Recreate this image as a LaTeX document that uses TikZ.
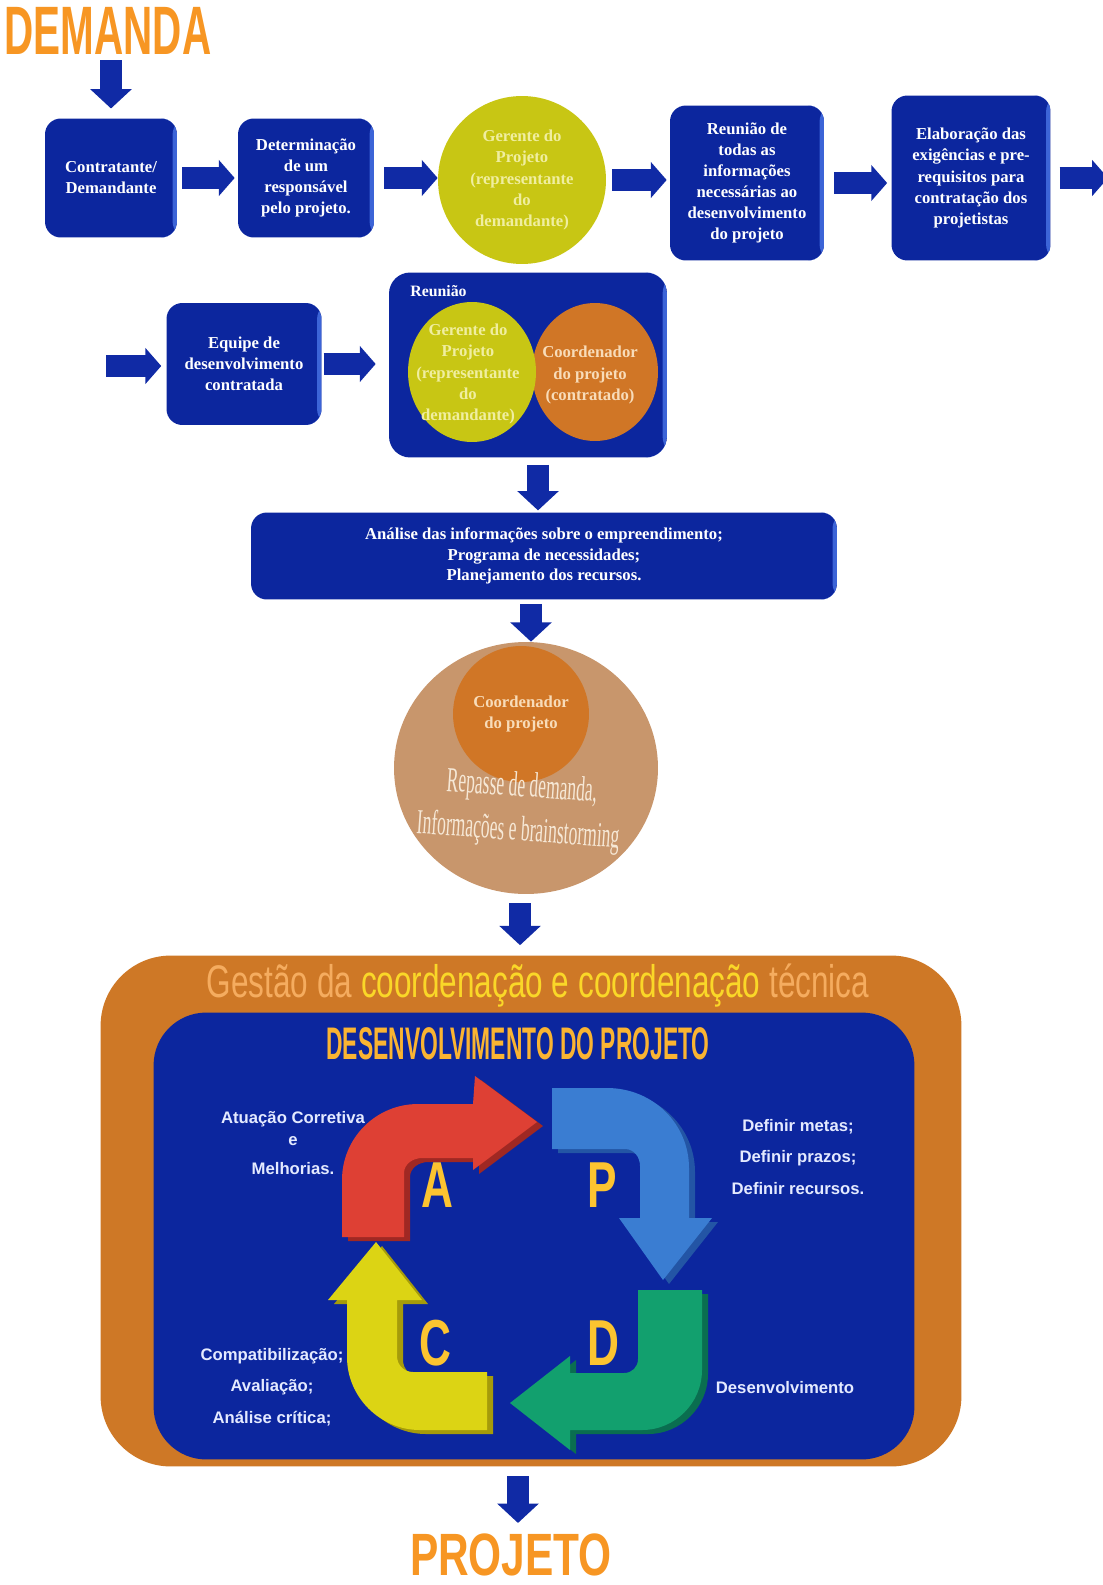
\documentclass[tikz,border=0pt]{standalone}
\usepackage{fontspec}
\setmainfont{Liberation Serif}
\newfontfamily\sansf{Liberation Sans}
\usepackage{graphicx}
\usetikzlibrary{arrows.meta,calc,shapes.geometric}
\definecolor{boxblue}{RGB}{12,38,158}
\definecolor{boxedge}{RGB}{60,100,215}
\definecolor{cblue}{RGB}{16,42,165}
\definecolor{gyellow}{RGB}{200,198,20}
\definecolor{gyellowtxt}{RGB}{240,238,160}
\definecolor{corange}{RGB}{208,118,38}
\definecolor{corangetxt}{RGB}{248,220,185}
\definecolor{tancol}{RGB}{200,150,108}
\definecolor{frameor}{RGB}{206,120,38}
\definecolor{titleor}{RGB}{247,150,35}
\definecolor{lightor}{RGB}{245,172,95}
\definecolor{yelt}{RGB}{250,215,40}
\definecolor{dtit}{RGB}{250,180,50}
\definecolor{redA}{RGB}{222,64,52}
\definecolor{redAd}{RGB}{160,40,35}
\definecolor{blueP}{RGB}{58,125,210}
\definecolor{bluePd}{RGB}{35,85,165}
\definecolor{greenD}{RGB}{18,160,110}
\definecolor{greenDd}{RGB}{10,110,80}
\definecolor{yelC}{RGB}{220,212,20}
\definecolor{yelCd}{RGB}{165,155,10}
\definecolor{letcol}{RGB}{252,196,48}
\definecolor{labtxt}{RGB}{228,234,255}
\definecolor{reptxt}{RGB}{246,232,214}
\begin{document}
\begin{tikzpicture}[x=0.02cm,y=-0.02cm,
  box/.style={rounded corners=9pt, fill=boxblue, text=white, align=center,
    font=\bfseries\fontsize{9.5}{12}\selectfont, inner sep=2pt,
    path picture={\fill[boxedge] ([xshift=-2.5pt]path picture bounding box.north east) rectangle (path picture bounding box.south east);}},
  bigword/.style={font=\sansf\bfseries\fontsize{39}{39}\selectfont, text=titleor, inner sep=0pt},
  hconn/.style={draw=cblue, line width=12pt, -{Triangle[length=9pt,width=20pt]}},
  vconn/.style={draw=cblue, line width=13pt, -{Triangle[length=11pt,width=23pt]}},
  circtxt/.style={align=center, font=\bfseries\fontsize{9.5}{12}\selectfont},
  pdcalab/.style={align=center, text=labtxt, font=\sansf\bfseries\fontsize{9.5}{18}\selectfont},
  pdcalet/.style={text=letcol, font=\sansf\bfseries\fontsize{37}{37}\selectfont, inner sep=0pt},
  reptext/.style={rotate=-4, text=reptxt, font=\fontsize{20}{20}\selectfont, inner sep=0pt}
]
\useasboundingbox[fill=white] (0,0) rectangle (1102,1585);

% ---- top
\node[bigword] (demanda) at (108,31) {\scalebox{0.59}[1]{DEMANDA}};
\node[box, minimum width=2.64cm, minimum height=2.38cm] (b1) at (111,178) {Contratante/\\Demandante};
\node[box, minimum width=2.72cm, minimum height=2.38cm] (b2) at (306,178) {Determinação\\de um\\responsável\\pelo projeto.};
\node[circle, fill=gyellow, text=gyellowtxt, circtxt, minimum size=3.36cm, inner sep=0pt] (gc) at (522,180) {Gerente do\\Projeto\\(representante\\do\\demandante)};
\node[box, minimum width=3.08cm, minimum height=3.10cm] (b4) at (747,183) {Reunião de\\todas as\\informações\\necessárias ao\\desenvolvimento\\do projeto};
\node[box, minimum width=3.18cm, minimum height=3.30cm] (b5) at (971,178) {Elaboração das\\exigências e pre-\\requisitos para\\contratação dos\\projetistas};

% ---- second row
\node[box, minimum width=3.10cm, minimum height=2.44cm] (b6) at (244,364) {Equipe de\\desenvolvimento\\contratada};
\node[box, rounded corners=12pt, minimum width=5.56cm, minimum height=3.70cm] (reun) at (528,365) {};
\node[anchor=west, text=white, font=\bfseries\fontsize{9}{11}\selectfont, inner sep=0pt] (reunlbl) at (410,291) {Reunião};
\node[ellipse, fill=corange, minimum width=2.52cm, minimum height=2.76cm, inner sep=0pt] (eo) at (595,372) {};
\node[ellipse, fill=gyellow, minimum width=2.56cm, minimum height=2.80cm, inner sep=0pt] (ey) at (472,372) {};
\node[circtxt, text=gyellowtxt] (eyt) at (468,374) {Gerente do\\Projeto\\(representante\\do\\demandante)};
\node[circtxt, text=corangetxt] (eot) at (590,375) {Coordenador\\do projeto\\(contratado)};

% ---- analysis
\node[box, font=\bfseries\fontsize{9.5}{11.5}\selectfont, minimum width=11.72cm, minimum height=1.74cm] (ana) at (544,556)
  {Análise das informações sobre o empreendimento;\\Programa de necessidades;\\Planejamento dos recursos.};

% ---- tan circle
\node[ellipse, fill=tancol, minimum width=5.28cm, minimum height=5.04cm, inner sep=0pt] (tan) at (526,768) {};
\node[circle, fill=corange, text=corangetxt, circtxt, minimum size=2.72cm, inner sep=0pt] (oc) at (521,714) {Coordenador\\do projeto};
\node[reptext] (rep1) at (522,788) {\scalebox{0.5}[1]{Repasse de demanda,}};
\node[reptext] (rep2) at (518,832) {\scalebox{0.5}[1]{Informações e brainstorming}};

% ---- frame
\node[fill=frameor, rounded corners=40pt, minimum width=17.22cm, minimum height=10.22cm] (frame) at (531,1211) {};
\node[font=\sansf\fontsize{26}{26}\selectfont, inner sep=0pt] (gtitle) at (538,986)
  {\scalebox{0.69}[1]{\color{lightor}Gestão da \color{yelt}coordenação e coordenação \color{lightor}técnica}};
\node[fill=boxblue, rounded corners=30pt, minimum width=15.22cm, minimum height=8.94cm] (inner) at (534,1236) {};
\node[text=dtit, font=\sansf\bfseries\fontsize{26}{26}\selectfont, inner sep=0pt] (dtitle) at (518,1044)
  {\scalebox{0.5}[1]{DESENVOLVIMENTO DO PROJETO}};

% ---- PDCA arrows (3D underlay + face)
\fill[redAd, shift={(6,4)}] (342,1237) -- (342,1180) .. controls (342,1138) and (376,1104) .. (418,1104) -- (473,1104) -- (475,1076) -- (537,1122) -- (473,1170) -- (473,1158) -- (422,1158) .. controls (413,1158) and (404,1164) .. (404,1173) -- (404,1237) -- cycle;
\fill[redA] (342,1237) -- (342,1180) .. controls (342,1138) and (376,1104) .. (418,1104) -- (473,1104) -- (475,1076) -- (537,1122) -- (473,1170) -- (473,1158) -- (422,1158) .. controls (413,1158) and (404,1164) .. (404,1173) -- (404,1237) -- cycle;

\fill[bluePd, shift={(6,4)}] (552,1088) -- (607,1088) .. controls (653,1088) and (689,1124) .. (689,1168) -- (689,1218) -- (712,1218) -- (663,1280) -- (619,1218) -- (640,1218) -- (640,1166) .. controls (640,1157) and (634,1149) .. (625,1149) -- (552,1149) -- cycle;
\fill[blueP] (552,1088) -- (607,1088) .. controls (653,1088) and (689,1124) .. (689,1168) -- (689,1218) -- (712,1218) -- (663,1280) -- (619,1218) -- (640,1218) -- (640,1166) .. controls (640,1157) and (634,1149) .. (625,1149) -- (552,1149) -- cycle;

\fill[greenDd, shift={(6,4)}] (638,1290) -- (702,1290) -- (702,1370) .. controls (702,1403) and (675,1430) .. (642,1430) -- (570,1430) -- (570,1450) -- (510,1403) -- (570,1356) -- (570,1373) -- (624,1373) .. controls (632,1373) and (638,1367) .. (638,1359) -- cycle;
\fill[greenD] (638,1290) -- (702,1290) -- (702,1370) .. controls (702,1403) and (675,1430) .. (642,1430) -- (570,1430) -- (570,1450) -- (510,1403) -- (570,1356) -- (570,1373) -- (624,1373) .. controls (632,1373) and (638,1367) .. (638,1359) -- cycle;

\fill[yelCd, shift={(6,4)}] (487,1430) -- (420,1430) .. controls (380,1430) and (347,1397) .. (347,1357) -- (347,1300) -- (328,1300) -- (376,1242) -- (422,1300) -- (397,1300) -- (397,1356) .. controls (397,1365) and (404,1372) .. (413,1372) -- (487,1372) -- cycle;
\fill[yelC] (487,1430) -- (420,1430) .. controls (380,1430) and (347,1397) .. (347,1357) -- (347,1300) -- (328,1300) -- (376,1242) -- (422,1300) -- (397,1300) -- (397,1356) .. controls (397,1365) and (404,1372) .. (413,1372) -- (487,1372) -- cycle;

\node[pdcalet] (la) at (437,1185) {\scalebox{0.68}[1]{A}};
\node[pdcalet] (lp) at (602,1185) {\scalebox{0.68}[1]{P}};
\node[pdcalet] (lc) at (435,1343) {\scalebox{0.68}[1]{C}};
\node[pdcalet] (ld) at (603,1343) {\scalebox{0.68}[1]{D}};

\node[pdcalab, font=\sansf\bfseries\fontsize{9.5}{12.5}\selectfont] (tA) at (293,1143) {Atuação Corretiva\\e\\[4pt]Melhorias.};
\node[pdcalab] (tP) at (798,1157) {Definir metas;\\Definir prazos;\\Definir recursos.};
\node[pdcalab] (tC) at (272,1387) {Compatibilização;\\Avaliação;\\Análise crítica;};
\node[pdcalab] (tD) at (785,1388) {Desenvolvimento};

\node[bigword, font=\sansf\bfseries\fontsize{34}{34}\selectfont] (projeto) at (511,1555) {\scalebox{0.71}[1]{PROJETO}};

% ---- connectors
\coordinate (offr) at (1108,180);
\coordinate (inl) at (106,366);
\draw[vconn, shorten <=3pt, shorten >=5.5pt] (demanda.south -| b1.north) -- (b1.north);
\draw[hconn, shorten <=2.8pt, shorten >=1.7pt] (b1.east) -- (b1.east -| b2.west);
\draw[hconn, shorten <=5.5pt] (b2.east) -- (b2.east -| gc.west);
\draw[hconn, shorten <=3.4pt, shorten >=1.7pt] (gc.east) -- (gc.east -| b4.west);
\draw[hconn, shorten <=5.7pt, shorten >=2.3pt] (b4.east) -- (b4.east -| b5.west);
\draw[hconn, shorten <=5pt] (b5.east) -- (b5.east -| offr);
\draw[hconn, shorten >=2.8pt] (inl) -- (inl -| b6.west);
\draw[hconn, shorten <=1pt, shorten >=7.4pt] (b6.east) -- (b6.east -| reun.west);
\draw[vconn, shorten <=4pt, shorten >=1pt] ([xshift=5.7pt]reun.south) -- ([xshift=5.7pt]reun.south |- ana.north);
\draw[vconn, shorten <=2.3pt] ([xshift=-7.4pt]ana.south) -- ([xshift=-7.4pt]ana.south |- tan.north);
\draw[vconn, shorten <=5pt, shorten >=5.7pt] ([xshift=-3.4pt]tan.south) -- ([xshift=-3.4pt]tan.south |- frame.north);
\draw[vconn, shorten <=5.4pt, shorten >=6pt] ([xshift=-7.4pt]frame.south) -- ([xshift=-7.4pt]frame.south |- projeto.north);
\end{tikzpicture}
\end{document}
